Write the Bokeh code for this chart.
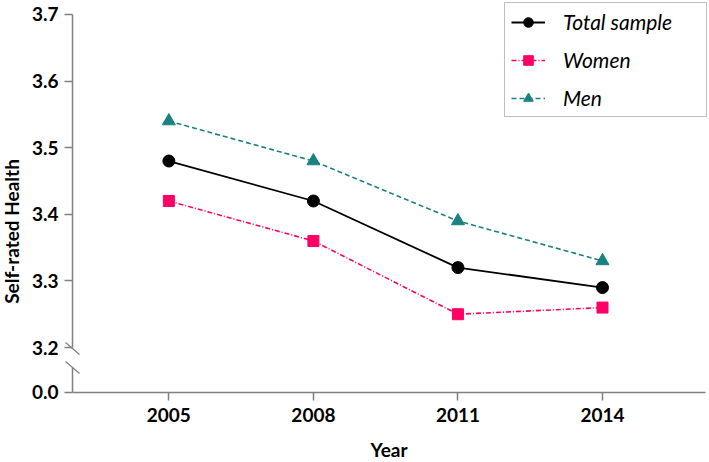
from bokeh.plotting import figure
from bokeh.models import (FixedTicker, LinearAxis, Range1d, Legend, LegendItem,
                          PrintfTickFormatter)
from bokeh.embed import file_html
from bokeh.resources import INLINE

# ---- data ----
years = [2005, 2008, 2011, 2014]
total = [3.48, 3.42, 3.32, 3.29]
women = [3.42, 3.36, 3.25, 3.26]
men = [3.54, 3.48, 3.39, 3.33]
y_ticks = [3.2, 3.3, 3.4, 3.5, 3.6, 3.7]
zero_label = "0.0"
series_names = ["Total sample", "Women", "Men"]

# position on the (broken) axis where 0.0 is shown
ZERO_POS = 3.1325
AXIS_X = 2003
X_END = 2016.14

GRAY = "#808080"
FONT = "Lato"

p = figure(width=709, height=462, output_backend="svg", toolbar_location=None,
           x_range=Range1d(2001.5056, 2016.221), y_range=Range1d(3.0274, 3.7210),
           x_axis_location=None, y_axis_location=None,
           min_border_left=0, min_border_right=0, min_border_top=0, min_border_bottom=0)
p.outline_line_color = None
p.background_fill_color = "white"
p.border_fill_color = "white"
p.grid.grid_line_color = None
p.grid.visible = False

# axes drawn at fixed locations inside the frame so the axis break can be drawn
xaxis = LinearAxis(ticker=FixedTicker(ticks=years), bounds=(AXIS_X, X_END),
                   fixed_location=ZERO_POS, axis_label="Year")
yaxis = LinearAxis(ticker=FixedTicker(ticks=[ZERO_POS] + y_ticks), fixed_location=AXIS_X,
                   axis_label="Self-rated Health",
                   formatter=PrintfTickFormatter(format="%.1f"),
                   major_label_overrides={ZERO_POS: zero_label})
for ax in (xaxis, yaxis):
    ax.axis_line_color = GRAY
    ax.axis_line_width = 1.5
    ax.major_tick_line_color = GRAY
    ax.major_tick_line_width = 1.5
    ax.major_tick_out = 8
    ax.major_tick_in = 0
    ax.minor_tick_line_color = None
    ax.major_label_text_font = FONT
    ax.major_label_text_font_style = "bold"
    ax.major_label_text_font_size = "19px"
    ax.major_label_text_color = "black"
    ax.axis_label_text_font = FONT
    ax.axis_label_text_font_style = "bold"
    ax.axis_label_text_font_size = "19px"
    ax.axis_label_text_color = "black"
yaxis.axis_line_color = None
yaxis.major_label_standoff = 6
yaxis.axis_label_standoff = 6
xaxis.major_label_standoff = 8
xaxis.axis_label_standoff = 12
p.add_layout(xaxis, "below")
p.add_layout(yaxis, "left")

# broken y-axis line and break marks
p.segment(x0=[AXIS_X, AXIS_X], y0=[ZERO_POS, 3.2], x1=[AXIS_X, AXIS_X], y1=[3.17, 3.7],
          line_color=GRAY, line_width=1.5)
p.segment(x0=[2002.855, 2002.855], y0=[3.2075, 3.179], x1=[2003.145, 2003.145], y1=[3.1895, 3.161],
          line_color=GRAY, line_width=1.3)

# series
l1 = p.line(years, total, line_color="black", line_width=1.8)
s1 = p.scatter(years, total, marker="circle", size=12, fill_color="black", line_color="black")
l2 = p.line(years, women, line_color="#FF0066", line_width=1.6, line_dash="5 2 1 2")
s2 = p.scatter(years, women, marker="square", size=11, fill_color="#FF0066", line_color="#FF0066")
l3 = p.line(years, men, line_color="#1A8080", line_width=1.6, line_dash="5 3")
s3 = p.scatter(years, men, marker="triangle", size=13, fill_color="#1A8080", line_color="#1A8080")

legend = Legend(items=[LegendItem(label=series_names[0], renderers=[l1, s1]),
                       LegendItem(label=series_names[1], renderers=[l2, s2]),
                       LegendItem(label=series_names[2], renderers=[l3, s3])],
                location="top_right", margin=2, padding=6, spacing=13,
                glyph_width=34, glyph_height=24, label_height=24, label_width=137,
                label_standoff=18,
                label_text_font=FONT, label_text_font_style="italic",
                label_text_font_size="21px", label_text_color="black",
                border_line_color=GRAY, border_line_width=1.5,
                background_fill_color="white", background_fill_alpha=1.0)
p.add_layout(legend)

open("out.html", "w").write(file_html(p, INLINE))
